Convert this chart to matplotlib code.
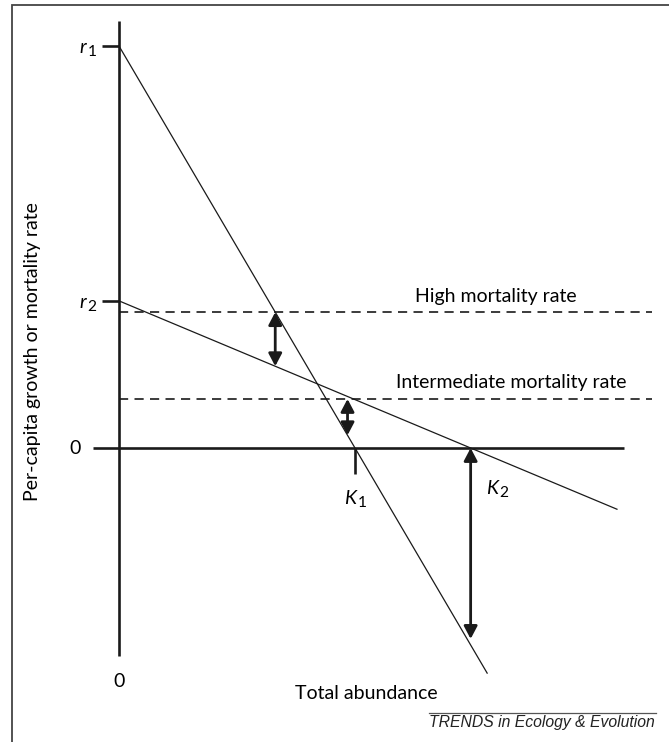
import matplotlib
matplotlib.use("Agg")
import matplotlib.pyplot as plt
from matplotlib.patches import Rectangle

plt.rcParams['font.family'] = ['Lato', 'DejaVu Sans']

# model values (relative units)
r1 = 1.0       # intrinsic growth rate, species 1
r2 = 0.366     # intrinsic growth rate, species 2
K1 = 1.0       # carrying capacity, species 1
K2 = 1.49      # carrying capacity, species 2
m_high = 0.338
m_int = 0.122

line1_end = 1.56
line2_end = 2.11
zero_line = [-0.11, 2.14]
dash_end = 2.26
yaxis_range = [-0.517, 1.062]

fs = 14

fig = plt.figure(figsize=(6.69, 7.42), dpi=100)
ax = fig.add_axes([0, 0, 1, 1])
ax.set_xlim(-119 / 236, (669 - 119) / 236)
ax.set_ylim((448 - 742) / 402, 448 / 402)
ax.axis('off')

# border of the figure panel (left and top only visible)
fig.patches.append(Rectangle((12 / 669, -0.1), 2, 1.1 - 5 / 742, transform=fig.transFigure,
                             fill=False, edgecolor='#444444', lw=1.3))

k = '#1a1a1a'
# axes
ax.plot([0, 0], yaxis_range, color=k, lw=1.9, solid_capstyle='butt')
ax.plot(zero_line, [0, 0], color=k, lw=1.9, solid_capstyle='butt')
ax.plot([-0.072, 0], [r1, r1], color=k, lw=1.9, solid_capstyle='butt')
ax.plot([-0.072, 0], [r2, r2], color=k, lw=1.9, solid_capstyle='butt')
ax.plot([K1, K1], [0, -0.064], color=k, lw=1.9, solid_capstyle='butt')

# growth-rate lines
def g(r, K, x):
    return r * (1 - x / K)

ax.plot([0, line1_end], [r1, g(r1, K1, line1_end)], color=k, lw=0.9)
ax.plot([0, line2_end], [r2, g(r2, K2, line2_end)], color=k, lw=0.9)

# mortality rates
for m in (m_high, m_int):
    ax.plot([0, dash_end], [m, m], color=k, lw=1.2, linestyle=(0, (5.5, 3.8)))

ax.text(1.595, m_high + 0.038, 'High mortality rate', ha='center', va='center', fontsize=fs)
ax.text(1.66, m_int + 0.042, 'Intermediate mortality rate', ha='center', va='center', fontsize=fs)

# double arrows
ap = dict(arrowstyle='<|-|>,head_length=0.38,head_width=0.2', color=k, lw=2.0,
          shrinkA=0, shrinkB=0, mutation_scale=20)
x_high = K1 * (1 - m_high / r1)
ax.annotate('', xy=(x_high, m_high), xytext=(x_high, g(r2, K2, x_high)), arrowprops=ap)
x_int = K2 * (1 - m_int / r2) - 0.025
ax.annotate('', xy=(x_int, m_int), xytext=(x_int, g(r1, K1, x_int)), arrowprops=ap)
ax.annotate('', xy=(K2, 0), xytext=(K2, g(r1, K1, K2) + 0.015), arrowprops=ap)


def sym(x, y, letter, sub):
    # italic letter with an upright subscript, joined at (x, y)
    ax.annotate(letter, (x, y), xytext=(0, 0), textcoords='offset points',
                ha='right', va='center', fontsize=fs, style='italic')
    ax.annotate(sub, (x, y), xytext=(1, -3.5), textcoords='offset points',
                ha='left', va='center', fontsize=fs * 0.8)


# labels
sym(-0.14, r1 - 0.004, 'r', '1')
sym(-0.14, r2 - 0.004, 'r', '2')
ax.text(-0.16, 0, '0', ha='right', va='center', fontsize=fs)
ax.text(0.0, -0.58, '0', ha='center', va='center', fontsize=fs)
sym(1.004, -0.125, 'K', '1')
sym(1.606, -0.1, 'K', '2')
ax.text((366 - 119) / 236, -0.61, 'Total abundance', ha='center', va='center', fontsize=fs)
ax.text(-0.365, (448 - 352) / 402, 'Per-capita growth or mortality rate', rotation=90,
        ha='center', va='center', fontsize=fs)

# journal credit
fig.text(655 / 669, 1 - 722 / 742, 'TRENDS in Ecology & Evolution', ha='right', va='center',
         fontsize=11.3, style='italic', family='Liberation Sans', color='#222222')
fig.add_artist(plt.Line2D([429 / 669, 656 / 669], [1 - 713 / 742] * 2, transform=fig.transFigure,
                          color='#555555', lw=0.9))

fig.savefig('out.png', dpi=100)
